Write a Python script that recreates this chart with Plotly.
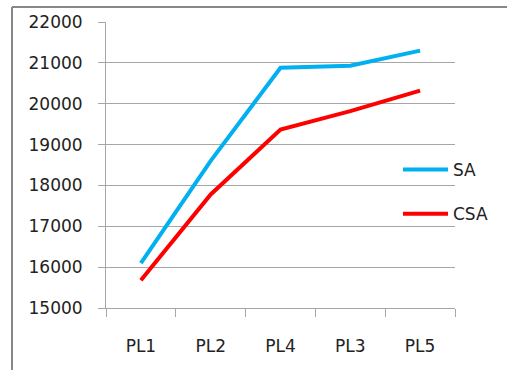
import plotly.graph_objects as go

categories = ["PL1", "PL2", "PL4", "PL3", "PL5"]
sa_values = [16100, 18600, 20880, 20930, 21300]
csa_values = [15680, 17780, 19370, 19820, 20320]
y_ticks = [15000, 16000, 17000, 18000, 19000, 20000, 21000, 22000]
y_tick_labels = [str(v) for v in y_ticks]

FONT = "DejaVu Sans"
GRID = "#A6A6A6"

fig = go.Figure()
fig.add_trace(go.Scatter(x=categories, y=sa_values, name="SA", mode="lines",
                         line=dict(color="#00B0F0", width=4), legendgroup="a"))
fig.add_trace(go.Scatter(x=categories, y=csa_values, name="CSA", mode="lines",
                         line=dict(color="#FF0000", width=4), legendgroup="b"))

L, R, T, B = 106, 52, 22, 62
W, H = 507, 370
pw, ph = W - L - R, H - T - B

def px2x(px):
    return (px - L) / pw

def py2y(py):
    return (H - B - py) / ph

frame_line = dict(color="#888888", width=2)

fig.update_layout(
    width=W, height=H,
    margin=dict(l=L, r=R, t=T, b=B, pad=0),
    paper_bgcolor="white", plot_bgcolor="white",
    font=dict(family=FONT, size=17, color="#222222"),
    showlegend=True,
    legend=dict(x=px2x(398), y=py2y(152), xanchor="left", yanchor="top",
                bgcolor="rgba(0,0,0,0)", traceorder="grouped", tracegroupgap=19,
                itemwidth=45, font=dict(family=FONT, size=17, color="#222222")),
    xaxis=dict(type="category", range=[-0.5, 4.5], showgrid=False, showline=True,
               linecolor=GRID, linewidth=1, ticks="outside", tickson="boundaries",
               ticklen=8, tickcolor=GRID, ticklabelstandoff=23, zeroline=False),
    yaxis=dict(range=[15000, 22000], tickvals=y_ticks, ticktext=y_tick_labels,
               showgrid=True, gridcolor=GRID, gridwidth=1, showline=True,
               linecolor=GRID, linewidth=1, ticks="outside", ticklen=7,
               tickcolor=GRID, ticklabelstandoff=12, zeroline=False),
    shapes=[
        dict(type="line", xref="paper", yref="paper", x0=px2x(12), x1=px2x(12),
             y0=py2y(372), y1=py2y(7), line=frame_line, layer="below"),
        dict(type="line", xref="paper", yref="paper", x0=px2x(12), x1=px2x(520),
             y0=py2y(7), y1=py2y(7), line=frame_line, layer="below"),
    ],
)

fig.write_html("out.html", config={"displayModeBar": False},
               post_script="document.body.style.margin='0';document.body.style.overflow='hidden';")
